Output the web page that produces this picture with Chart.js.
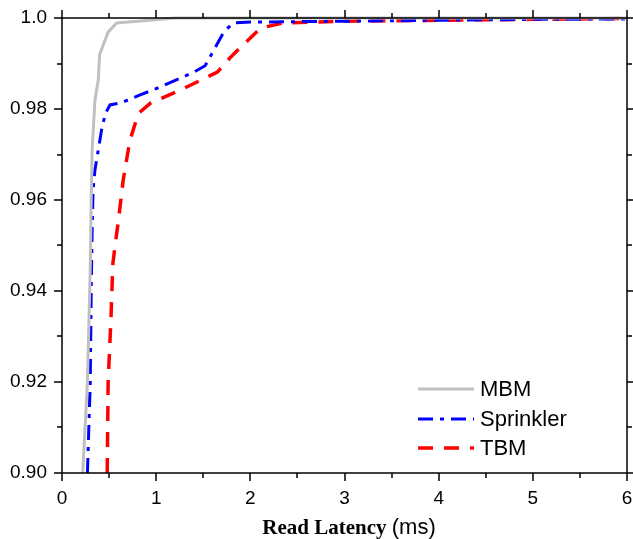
<!DOCTYPE html>
<html><head><meta charset="utf-8">
<script src="https://cdn.jsdelivr.net/npm/chart.js@4.4.0/dist/chart.umd.min.js"></script>
<style>html,body{margin:0;padding:0;background:#fff}#wrap{width:633px;height:539px;position:relative}</style>
</head><body><div id="wrap"><canvas id="c" width="633" height="539"></canvas></div>
<script>
const seriesNames = ['MBM', 'Sprinkler', 'TBM'];
const mbmX = [0.22, 0.27, 0.30, 0.31, 0.32, 0.35, 0.385, 0.40, 0.49, 0.58, 0.8, 1.2, 2, 3, 4, 5, 6];
const mbmY = [0.90, 0.92, 0.945, 0.96, 0.971, 0.982, 0.9864, 0.992, 0.9969, 0.9989, 0.9993, 1.0, 1.0, 1.0, 1.0, 1.0, 1.0];
const sprX = [0.27, 0.30, 0.31, 0.32, 0.33, 0.35, 0.39, 0.42, 0.46, 0.51, 0.62, 0.83, 1.04, 1.40, 1.52, 1.63, 1.72, 1.82, 2.0, 3, 4, 5, 6];
const sprY = [0.90, 0.92, 0.94, 0.9534, 0.9622, 0.9666, 0.9716, 0.9754, 0.979, 0.9809, 0.9813, 0.9831, 0.9848, 0.9881, 0.9895, 0.9936, 0.997, 0.9989, 0.9991, 0.9993, 0.9995, 0.9997, 0.9998];
const tbmX = [0.48, 0.49, 0.52, 0.54, 0.57, 0.60, 0.65, 0.72, 0.81, 0.94, 1.26, 1.65, 1.79, 2.0, 2.11, 2.35, 3, 4, 5, 6];
const tbmY = [0.90, 0.92, 0.934, 0.946, 0.951, 0.9556, 0.9644, 0.973, 0.979, 0.9813, 0.9842, 0.9881, 0.9914, 0.9956, 0.9978, 0.9989, 0.9993, 0.9995, 0.9997, 0.9999];
const xTicks = [0, 1, 2, 3, 4, 5, 6];
const yTicks = [0.90, 0.92, 0.94, 0.96, 0.98, 1.0];
const yTickLabels = ['0.90', '0.92', '0.94', '0.96', '0.98', '1.0'];
const xTitleBold = 'Read Latency';
const xTitleUnit = '(ms)';

const colors = ['#c0c0c0', '#0000ff', '#ff0000'];
const dashes = [[], [15, 7, 4, 7], [15, 11]];
const widths = [3, 3, 3.5];

function pts(xs, ys) { return xs.map((x, i) => ({x: x, y: ys[i]})); }
const allData = [pts(mbmX, mbmY), pts(sprX, sprY), pts(tbmX, tbmY)];

const framePlugin = {
  id: 'frame',
  afterDatasetsDraw(chart) {
    const ctx = chart.ctx, a = chart.chartArea;
    const xs = chart.scales.x, ys = chart.scales.y;
    ctx.save();
    ctx.strokeStyle = '#000';
    ctx.lineWidth = 1.5;
    ctx.strokeRect(a.left, a.top, a.right - a.left, a.bottom - a.top);
    ctx.lineWidth = 1.5;
    ctx.beginPath();
    for (let v = 0; v <= 6.0001; v += 0.5) {
      const px = Math.round(xs.getPixelForValue(v));
      const L = Math.abs(v - Math.round(v)) < 1e-6 ? 8 : 5;
      ctx.moveTo(px, a.bottom); ctx.lineTo(px, a.bottom + L);
      ctx.moveTo(px, a.top); ctx.lineTo(px, a.top - L);
    }
    for (let k = 0; k <= 10; k++) {
      const v = 0.9 + k * 0.01;
      const py = Math.round(ys.getPixelForValue(v));
      const L = k % 2 === 0 ? 8 : 5;
      ctx.moveTo(a.left, py); ctx.lineTo(a.left - L, py);
      ctx.moveTo(a.right, py); ctx.lineTo(a.right + L, py);
    }
    ctx.stroke();
    // legend
    const lx0 = 418, lx1 = 474, tx = 480, ly = [389, 419, 448];
    ctx.font = '22px "Liberation Sans", Arial, sans-serif';
    ctx.textBaseline = 'middle';
    ctx.fillStyle = '#000';
    for (let i = 0; i < 3; i++) {
      ctx.beginPath();
      ctx.strokeStyle = colors[i];
      ctx.lineWidth = widths[i];
      ctx.setLineDash(dashes[i]);
      ctx.moveTo(lx0, ly[i]); ctx.lineTo(lx1, ly[i]);
      ctx.stroke();
      ctx.setLineDash([]);
      ctx.fillText(seriesNames[i], tx, ly[i] + 1);
    }
    // x title
    ctx.textBaseline = 'alphabetic';
    ctx.font = 'bold 21px "Liberation Serif", "Times New Roman", serif';
    const w1 = ctx.measureText(xTitleBold + ' ').width;
    ctx.font = '22px "Liberation Sans", Arial, sans-serif';
    const w2 = ctx.measureText(xTitleUnit).width;
    const cx = 349;
    const start = cx - (w1 + w2) / 2;
    ctx.font = 'bold 21px "Liberation Serif", "Times New Roman", serif';
    ctx.fillText(xTitleBold + ' ', start, 534);
    ctx.font = '22px "Liberation Sans", Arial, sans-serif';
    ctx.fillText(xTitleUnit, start + w1, 534);
    ctx.restore();
  }
};

new Chart(document.getElementById('c'), {
  type: 'line',
  data: {
    datasets: allData.map((d, i) => ({
      label: seriesNames[i],
      data: d,
      borderColor: colors[i],
      borderWidth: widths[i],
      borderDash: dashes[i],
      pointRadius: 0,
      tension: 0,
      fill: false,
      clip: 6
    }))
  },
  options: {
    responsive: false,
    animation: false,
    layout: {padding: {top: 18, right: 6, left: 0, bottom: 0}},
    plugins: {legend: {display: false}, tooltip: {enabled: false}},
    scales: {
      x: {
        type: 'linear', min: 0, max: 6,
        afterBuildTicks: s => { s.ticks = xTicks.map(v => ({value: v})); },
        afterFit: s => { s.height = 66; s.paddingLeft = 0; s.paddingRight = 0; },
        grid: {display: false, drawTicks: false},
        border: {display: false},
        ticks: {padding: 14, color: '#000', font: {family: '"Liberation Sans", Arial, sans-serif', size: 19}, callback: v => String(v), maxRotation: 0}
      },
      y: {
        type: 'linear', min: 0.9, max: 1.0,
        afterBuildTicks: s => { s.ticks = yTicks.map(v => ({value: v})); },
        afterFit: s => { s.width = 62; s.paddingTop = 0; s.paddingBottom = 0; },
        grid: {display: false, drawTicks: false},
        border: {display: false},
        ticks: {padding: 15, color: '#000', font: {family: '"Liberation Sans", Arial, sans-serif', size: 19},
          callback: (v) => { const i = yTicks.findIndex(t => Math.abs(t - v) < 1e-6); return i >= 0 ? yTickLabels[i] : ''; }}
      }
    }
  },
  plugins: [framePlugin]
});
</script></body></html>
